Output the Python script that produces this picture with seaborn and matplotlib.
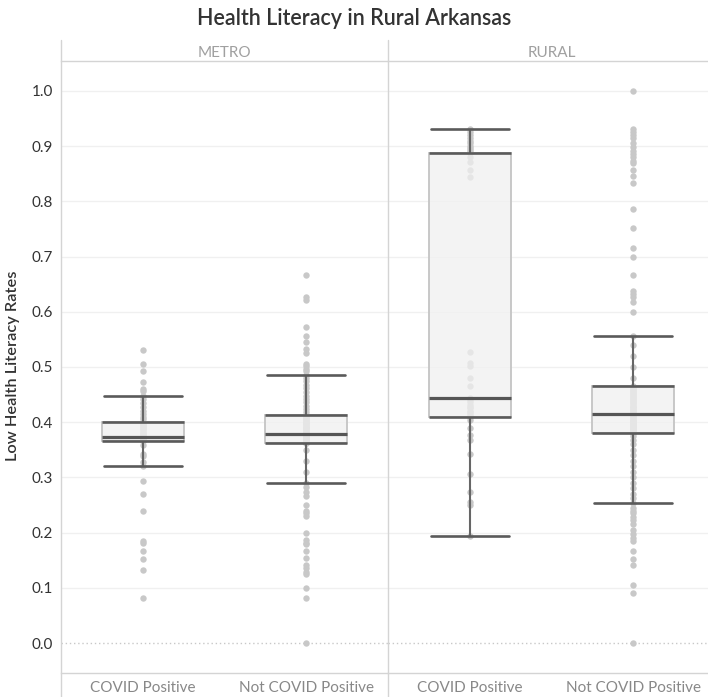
import numpy as np
import pandas as pd
import seaborn as sns
from matplotlib import pyplot as plt
from matplotlib.lines import Line2D

areas = ["METRO", "RURAL"]
statuses = ["COVID Positive", "Not COVID Positive"]

# low health literacy rates (hidden in-box points estimated)
metro_positive = [
    0.082, 0.132, 0.153, 0.166, 0.182, 0.185, 0.239, 0.270, 0.294,
    0.320, 0.328, 0.338, 0.342, 0.359,
    0.366, 0.367, 0.367, 0.368, 0.368, 0.369, 0.369, 0.370, 0.370,
    0.371, 0.371, 0.372, 0.372, 0.372, 0.373,
    0.375, 0.377, 0.379, 0.381, 0.383, 0.385, 0.387, 0.389, 0.391,
    0.393, 0.395, 0.397, 0.399, 0.401,
    0.405, 0.410, 0.415, 0.420, 0.428, 0.435, 0.442, 0.448,
    0.457, 0.460, 0.473, 0.492, 0.505, 0.531,
]
metro_not_positive = [
    0.000, 0.082, 0.099, 0.125, 0.129, 0.135, 0.142, 0.154, 0.166, 0.179,
    0.182, 0.187, 0.200, 0.231, 0.235, 0.240, 0.250, 0.266, 0.274, 0.283,
    0.290, 0.310, 0.330, 0.350,
    0.362, 0.363, 0.363, 0.364, 0.365, 0.365, 0.366, 0.367, 0.367, 0.368,
    0.369, 0.370, 0.370, 0.371, 0.372, 0.373, 0.373, 0.374, 0.375, 0.376,
    0.376, 0.377, 0.378, 0.378, 0.379,
    0.380, 0.381, 0.383, 0.384, 0.386, 0.387, 0.389, 0.390, 0.392, 0.393,
    0.395, 0.396, 0.398, 0.399, 0.401, 0.402, 0.404, 0.405, 0.407, 0.408,
    0.410, 0.411, 0.412, 0.413,
    0.418, 0.424, 0.430, 0.436, 0.442, 0.448, 0.455, 0.462, 0.468, 0.474,
    0.480, 0.486,
    0.493, 0.497, 0.501, 0.505, 0.525, 0.532, 0.546, 0.556, 0.572, 0.621,
    0.626, 0.667,
]
rural_positive = [
    0.194, 0.250, 0.256, 0.274, 0.306, 0.342, 0.368, 0.376, 0.389, 0.404,
    0.409, 0.412, 0.415, 0.418, 0.421, 0.425, 0.428, 0.432, 0.436, 0.440,
    0.444, 0.465, 0.480, 0.501, 0.507, 0.528, 0.845, 0.857, 0.872, 0.881,
    0.888, 0.890, 0.893, 0.897, 0.900, 0.905, 0.910, 0.915, 0.920, 0.925,
    0.932,
]
rural_not_positive = [
    0.000, 0.090, 0.105, 0.142, 0.153, 0.166, 0.185, 0.190, 0.198, 0.205,
    0.215, 0.222, 0.228, 0.235, 0.240, 0.245,
    0.253, 0.262, 0.270, 0.280, 0.290, 0.300, 0.310, 0.320, 0.330, 0.340,
    0.350, 0.360, 0.368, 0.375,
    0.380, 0.381, 0.382, 0.383, 0.384, 0.385, 0.386, 0.387, 0.388, 0.389,
    0.390, 0.391, 0.392, 0.393, 0.394, 0.395, 0.396, 0.397, 0.398, 0.399,
    0.400, 0.401, 0.402, 0.403, 0.404, 0.406, 0.408, 0.410, 0.411, 0.413,
    0.414, 0.415, 0.417, 0.418, 0.420, 0.422, 0.423, 0.425, 0.427, 0.428,
    0.430, 0.432, 0.434, 0.435, 0.437, 0.439, 0.440, 0.442, 0.444, 0.446,
    0.447, 0.449, 0.451, 0.452, 0.454, 0.456, 0.458, 0.460, 0.462, 0.464,
    0.466, 0.480, 0.500, 0.520, 0.540, 0.556,
    0.600, 0.617, 0.627, 0.633, 0.638, 0.667, 0.700, 0.716, 0.751, 0.786,
    0.833, 0.846, 0.857, 0.869, 0.874, 0.880, 0.886, 0.892, 0.898, 0.905,
    0.914, 0.920, 0.926, 0.932, 1.000,
]

yticks = [0.0, 0.1, 0.2, 0.3, 0.4, 0.5, 0.6, 0.7, 0.8, 0.9, 1.0]

groups = {
    ("METRO", "COVID Positive"): metro_positive,
    ("METRO", "Not COVID Positive"): metro_not_positive,
    ("RURAL", "COVID Positive"): rural_positive,
    ("RURAL", "Not COVID Positive"): rural_not_positive,
}
df = pd.concat(
    [pd.DataFrame({"area": a, "status": s, "rate": v}) for (a, s), v in groups.items()],
    ignore_index=True,
)

sns.set_style("white")
plt.rcParams["font.family"] = ["Lato", "DejaVu Sans"]

W, H = 708, 697
fig = plt.figure(figsize=(W / 100, H / 100), dpi=100)

dark = "#5a5a5a"
rule = "#d4d4d4"
panel_w, top, bottom = 327, 61, 673

for i, area in enumerate(areas):
    left = 61 + i * panel_w
    ax = fig.add_axes([left / W, (H - bottom) / H, panel_w / W, (bottom - top) / H])
    sub = df[df.area == area]

    sns.stripplot(
        data=sub, x="status", y="rate", order=statuses, jitter=False,
        color="#c8c8c8", size=4.6, linewidth=0, zorder=2, ax=ax,
    )
    sns.boxplot(
        data=sub, x="status", y="rate", order=statuses, width=0.5,
        showfliers=False, color="#f0f0f0", linecolor=dark,
        boxprops=dict(facecolor=(0.94, 0.94, 0.94, 0.75), edgecolor="#c4c4c4", linewidth=1.3),
        whiskerprops=dict(color="#666666", linewidth=1.5),
        capprops=dict(color=dark, linewidth=1.9),
        medianprops=dict(color="#555555", linewidth=2.3),
        capwidths=0.48, zorder=3, ax=ax,
    )
    # Tableau draws the quartile edges dark, the box sides light
    for pos, status in enumerate(statuses):
        vals = sub.loc[sub.status == status, "rate"]
        q1, q3 = np.percentile(vals, [25, 75])
        ax.hlines([q1, q3], pos - 0.25, pos + 0.25, color=dark, linewidth=1.9, zorder=4)

    ax.set_xlim(-0.5, 1.5)
    ax.set_ylim(-0.0543, 1.0543)
    ax.set_xlabel("")
    ax.set_ylabel("")
    ax.set_yticks(yticks)
    ax.grid(axis="y", color="#f0f0f0", linewidth=1)
    ax.set_axisbelow(True)
    ax.get_ygridlines()[0].set_visible(False)
    ax.axhline(0, color="#c8c8c8", linestyle=(0, (1, 2)), linewidth=1, zorder=1)

    for side in ["left", "right"]:
        ax.spines[side].set_visible(False)
    for side in ["top", "bottom"]:
        ax.spines[side].set_color(rule)
        ax.spines[side].set_linewidth(1)

    ax.tick_params(axis="x", length=0, pad=6, labelsize=11, labelcolor="#888888")
    ax.set_xticks([0.5], minor=True)
    ax.tick_params(axis="x", which="minor", length=5, color=rule, width=1)
    if i == 0:
        ax.set_yticklabels([f"{t:.1f}" for t in yticks])
        ax.tick_params(axis="y", length=4, width=1, color="#666666", pad=2,
                       labelsize=11, labelcolor="#333333")
    else:
        ax.tick_params(axis="y", left=False, labelleft=False)

    ax.set_title(area, pad=3, fontsize=11, color="#a0a0a0")

for x in [61, 388]:
    fig.add_artist(Line2D([x / W, x / W], [0, (H - 40) / H],
                          transform=fig.transFigure, color=rule, linewidth=1))

fig.text(0.5, 1 - 25 / H, "Health Literacy in Rural Arkansas", ha="center",
         va="baseline", fontsize=15.5, fontweight="semibold", color="#333333")
fig.text(13 / W, 1 - 366 / H, "Low Health Literacy Rates", rotation=90, ha="center",
         va="center", fontsize=11.8, fontweight="semibold", color="#333333")

fig.savefig("out.png", dpi=100)
